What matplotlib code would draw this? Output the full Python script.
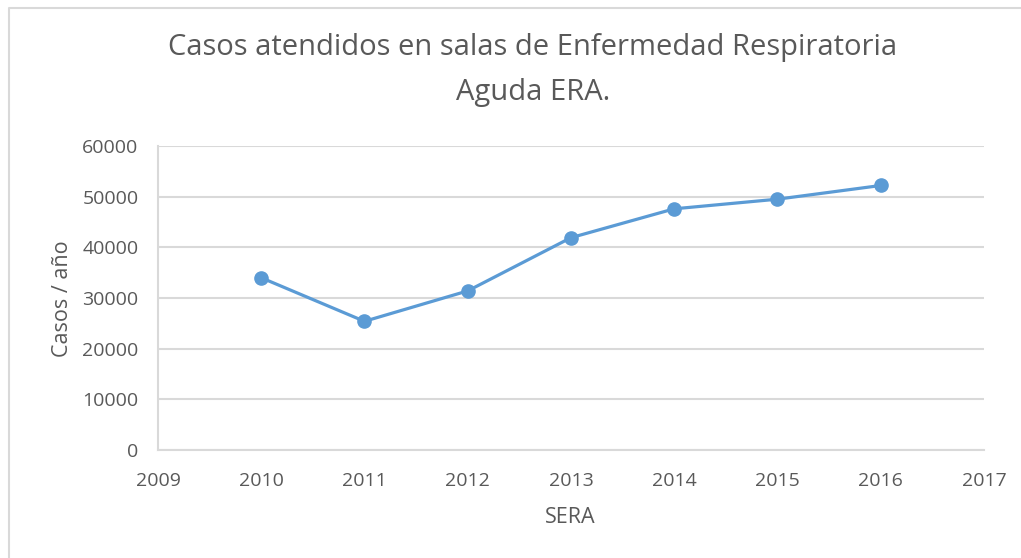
import matplotlib.pyplot as plt
from matplotlib.lines import Line2D

years = [2010, 2011, 2012, 2013, 2014, 2015, 2016]
casos = [34000, 25400, 31400, 41900, 47600, 49500, 52200]
yticks = [0, 10000, 20000, 30000, 40000, 50000, 60000]
xticks = [2009, 2010, 2011, 2012, 2013, 2014, 2015, 2016, 2017]

plt.rcParams['font.family'] = ['Open Sans', 'DejaVu Sans']
text_color = '#595959'
grid_color = '#d9d9d9'

fig = plt.figure(figsize=(10.21, 5.58), dpi=100)
ax = fig.add_axes([0.1547, 0.1935, 0.809, 0.5449])

# borde del area del grafico (solo arriba e izquierda quedan en la imagen)
fig.lines.append(Line2D([9 / 1021, 9 / 1021, 1.0], [0.0, 1 - 8 / 558, 1 - 8 / 558],
                        transform=fig.transFigure, color='#d9d9d9', linewidth=1.5))

ax.plot(years, casos, color='#5b9bd5', linewidth=2.3, marker='o', markersize=9.5)

ax.set_xlim(2009, 2017)
ax.set_ylim(0, 60000)
ax.set_xticks(xticks)
ax.set_yticks(yticks)
ax.set_xticklabels([str(x) for x in xticks])
ax.set_yticklabels([str(y) for y in yticks])
ax.tick_params(length=0, labelsize=14, colors=text_color)
ax.tick_params(axis='x', pad=15.5)
ax.tick_params(axis='y', pad=14)
ax.grid(axis='y', color=grid_color, linewidth=1.5)
ax.set_axisbelow(True)
for s in ['top', 'right']:
    ax.spines[s].set_visible(False)
for s in ['left', 'bottom']:
    ax.spines[s].set_color(grid_color)
    ax.spines[s].set_linewidth(1.5)

fig.text(0.522, 0.874, 'Casos atendidos en salas de Enfermedad Respiratoria\nAguda ERA.',
         ha='center', va='center', fontsize=21, color=text_color, linespacing=1.72)
fig.text(0.061, 0.465, 'Casos / año', rotation=90, ha='center', va='center',
         fontsize=15.5, color=text_color)
fig.text(0.559, 0.072, 'SERA', ha='center', va='center', fontsize=15.5, color=text_color)

fig.savefig('out.png', dpi=100)
